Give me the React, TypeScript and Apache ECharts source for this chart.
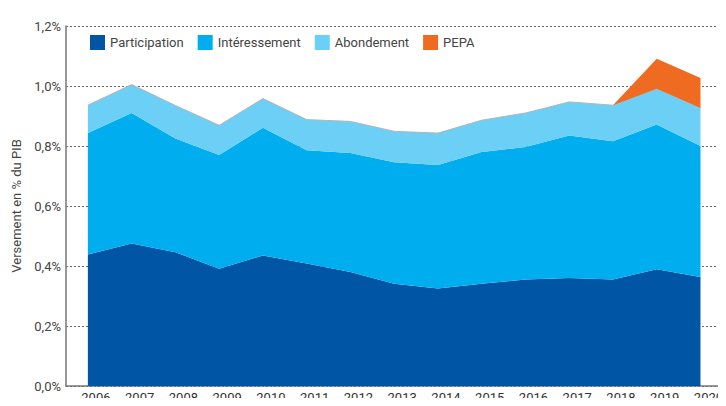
import React, { useEffect, useRef } from "react";
import * as echarts from "echarts";

const years = ["2006","2007","2008","2009","2010","2011","2012","2013","2014","2015","2016","2017","2018","2019","2020"];
const participation = [0.438, 0.475, 0.446, 0.391, 0.435, 0.408, 0.380, 0.341, 0.325, 0.341, 0.355, 0.360, 0.355, 0.389, 0.363];
const interessement = [0.405, 0.435, 0.379, 0.379, 0.426, 0.378, 0.397, 0.405, 0.412, 0.439, 0.442, 0.475, 0.461, 0.483, 0.437];
const abondement = [0.093, 0.095, 0.110, 0.099, 0.097, 0.102, 0.105, 0.103, 0.106, 0.106, 0.113, 0.112, 0.120, 0.119, 0.127];
const pepa = [null, null, null, null, null, null, null, null, null, null, null, null, 0, 0.100, 0.100];

const seriesNames = ["Participation", "Intéressement", "Abondement", "PEPA"];
const colors = ["#0055a5", "#00adef", "#6ccff6", "#ef6b22"];

const FONT = "Roboto, 'Noto Sans', sans-serif";

export default function App() {
  const ref = useRef<HTMLDivElement>(null);
  useEffect(() => {
    if (!ref.current) return;
    const chart = echarts.init(ref.current, undefined, { renderer: "svg" });
    const dataSets = [participation, interessement, abondement, pepa];
    chart.setOption({
      animation: false,
      textStyle: { fontFamily: FONT },
      grid: { left: 66, right: 1, top: 26, bottom: 20, containLabel: false },
      legend: {
        left: 85,
        top: 30,
        itemWidth: 15,
        itemHeight: 15,
        itemGap: 14,
        icon: "rect",
        data: seriesNames,
        textStyle: { fontSize: 13, color: "#444", fontFamily: FONT },
      },
      xAxis: {
        type: "category",
        data: years,
        boundaryGap: true,
        axisLine: { show: true, lineStyle: { color: "#777", width: 1.5 } },
        axisTick: { show: false },
        axisLabel: {
          color: "#333",
          fontSize: 13,
          fontFamily: FONT,
          margin: 5,
          padding: [0, 0, 0, 16],
          interval: 0,
        },
        splitLine: { show: false },
      },
      yAxis: {
        type: "value",
        min: 0,
        max: 1.2,
        interval: 0.2,
        name: "Versement en % du PIB",
        nameLocation: "middle",
        nameGap: 42,
        nameTextStyle: { fontSize: 13, color: "#444", fontFamily: FONT },
        axisLine: { show: true, lineStyle: { color: "#777", width: 1.5 } },
        axisTick: { show: false },
        axisLabel: {
          color: "#444",
          fontSize: 13,
          fontFamily: FONT,
          margin: 5,
          formatter: (v: number) => v.toFixed(1).replace(".", ",") + "%",
        },
        splitLine: {
          show: true,
          lineStyle: { color: "#666", type: [2, 2], width: 1 },
        },
      },
      series: dataSets.map((d, i) => ({
        name: seriesNames[i],
        type: "line",
        stack: "total",
        data: d,
        showSymbol: false,
        symbol: "none",
        itemStyle: { color: colors[i] },
        lineStyle: i === 2 ? { color: "#b5b5b5", width: 1 } : { width: 0, color: colors[i] },
        areaStyle: { color: colors[i], opacity: 1 },
        z: 2 + i,
      })),
    });
    return () => chart.dispose();
  }, []);
  return <div ref={ref} style={{ width: 726, height: 406, margin: -8 }} />;
}
